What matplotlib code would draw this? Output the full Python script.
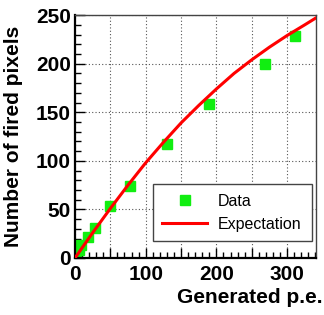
import matplotlib.pyplot as plt
from matplotlib.ticker import MultipleLocator

plt.rcParams['font.family'] = ['Liberation Sans', 'DejaVu Sans']

# measured points
gen_pe = [0.5, 2, 5, 9, 18, 28, 50, 78, 130, 189, 269, 311]
fired = [1, 4, 8, 13, 22, 31, 53, 74, 117, 159, 200, 228]

# expectation curve
exp_x = [0, 25, 50, 75, 100, 125, 150, 175, 200, 225, 250, 275, 300, 325, 345]
exp_y = [0, 26, 51, 75, 98, 119, 139, 157, 174, 190, 204, 217, 229, 240, 249]

fig = plt.figure(figsize=(3.24, 3.15), dpi=100)
ax = fig.add_axes([0.2315, 0.181, 0.744, 0.771])

ax.plot(exp_x, exp_y, color='#ff0000', lw=2.2, label='Expectation', zorder=3)
ax.plot(gen_pe, fired, ls='none', marker='s', ms=7.5, color='#11ee11',
        label='Data', zorder=2)

ax.set_xlim(0, 341)
ax.set_ylim(0, 250)

ax.xaxis.set_major_locator(MultipleLocator(50))
ax.xaxis.set_minor_locator(MultipleLocator(10))
ax.yaxis.set_major_locator(MultipleLocator(50))
ax.yaxis.set_minor_locator(MultipleLocator(10))
ax.set_xticklabels([])
ax.grid(True, which='major', color='#555555', ls=(0, (1, 2)), lw=0.8)

ax.tick_params(which='both', direction='in', top=False, right=False,
               labelsize=15, width=1.0, pad=3)
ax.tick_params(which='major', length=7)
ax.tick_params(which='minor', length=4)
for lab in ax.get_yticklabels():
    lab.set_fontweight('bold')

# x labels only every 100
for v in [0, 100, 200, 300]:
    ax.text(v, -7, str(v), ha='center', va='top', fontsize=15,
            fontweight='bold', transform=ax.transData)

for side in ['left', 'bottom']:
    ax.spines[side].set_linewidth(1.6)
for side in ['top', 'right']:
    ax.spines[side].set_linewidth(1.0)
    ax.spines[side].set_color('#444444')

ax.set_ylabel('Number of fired pixels', fontsize=15, fontweight='bold')
ax.yaxis.set_label_coords(-0.215, 0.5)
fig.text(0.995, 0.055, 'Generated p.e.', ha='right', va='center',
         fontsize=15, fontweight='bold')

handles, labels = ax.get_legend_handles_labels()
leg = ax.legend(handles[::-1], labels[::-1], loc='lower left',
                bbox_to_anchor=(0.322, 0.068, 0.66, 0.236), mode='expand',
                fontsize=11.5, fancybox=False, framealpha=1, edgecolor='#444444',
                handlelength=2.8, handletextpad=0.7, borderaxespad=0,
                labelspacing=0.5, borderpad=0.6)
leg.get_frame().set_linewidth(1.0)

fig.savefig('out.png', dpi=100)
